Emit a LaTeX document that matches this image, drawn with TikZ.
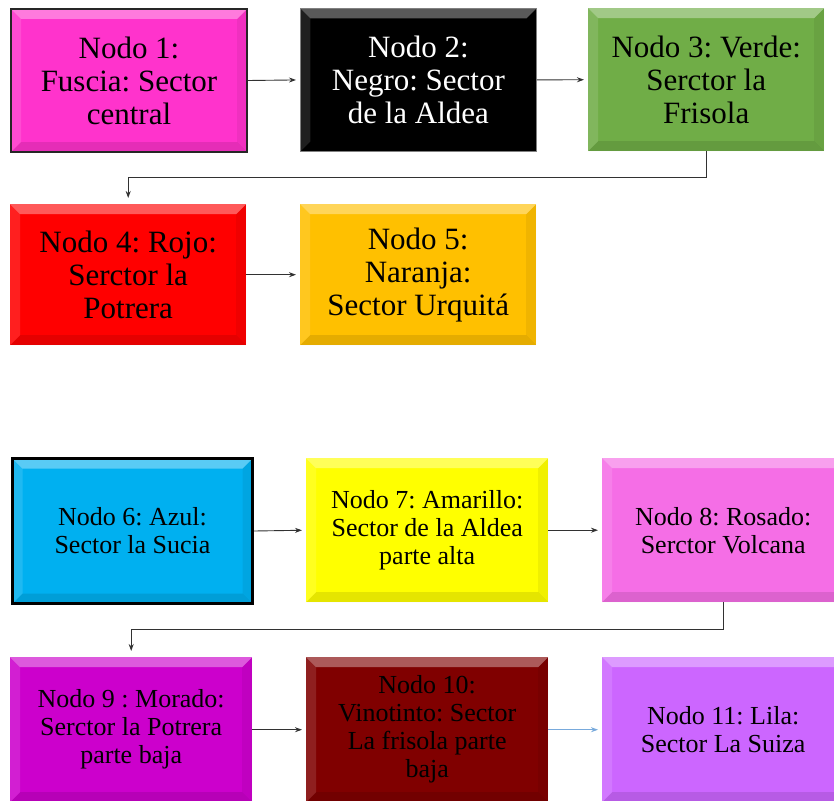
\documentclass[tikz,border=0pt]{standalone}
\usepackage{fontspec}
\setmainfont{Liberation Serif}
\usetikzlibrary{arrows.meta}
\definecolor{cfus}{RGB}{255,51,204}
\definecolor{cgreen}{RGB}{112,173,71}
\definecolor{cred}{RGB}{255,0,0}
\definecolor{corange}{RGB}{255,192,0}
\definecolor{ccyan}{RGB}{0,176,240}
\definecolor{cyellow}{RGB}{255,255,0}
\definecolor{cpink}{RGB}{245,110,230}
\definecolor{cpurple}{RGB}{204,0,204}
\definecolor{cwine}{RGB}{128,0,0}
\definecolor{clila}{RGB}{204,102,255}
\definecolor{cline}{RGB}{50,50,50}
\definecolor{cblue}{RGB}{120,170,220}
\tikzset{
  bevel/.style={path picture={
    \coordinate (NW) at (path picture bounding box.north west);
    \coordinate (NE) at (path picture bounding box.north east);
    \coordinate (SW) at (path picture bounding box.south west);
    \coordinate (SE) at (path picture bounding box.south east);
    \fill[white,opacity=0.35] (NW) -- (NE) -- ([shift={(-10pt,-10pt)}]NE) -- ([shift={(10pt,-10pt)}]NW) -- cycle;
    \fill[white,opacity=0.12] (NW) -- (SW) -- ([shift={(10pt,10pt)}]SW) -- ([shift={(10pt,-10pt)}]NW) -- cycle;
    \fill[black,opacity=0.06] (NE) -- (SE) -- ([shift={(-10pt,10pt)}]SE) -- ([shift={(-10pt,-10pt)}]NE) -- cycle;
    \fill[black,opacity=0.10] (SW) -- (SE) -- ([shift={(-10pt,10pt)}]SE) -- ([shift={(10pt,10pt)}]SW) -- cycle;
  }},
  box/.style={anchor=north west, inner sep=0pt, align=center, bevel},
  big/.style={box, font=\fontsize{31}{33}\selectfont, minimum width=236pt, minimum height=143pt},
  small/.style={box, font=\fontsize{26}{28}\selectfont, minimum width=242pt, minimum height=145pt},
  conn/.style={draw=cline, line width=0.9pt, -{Stealth[length=7pt,width=5pt]}},
}
\begin{document}
\frenchspacing
\begin{tikzpicture}[x=1pt,y=-1pt]
\clip (0,0) rectangle (834,800);
\fill[white] (0,0) rectangle (834,800);
% top group
\node[big, fill=cfus, draw=black!85, line width=2pt] (n1) at (10,8) {Nodo 1:\\Fuscia: Sector\\central};
\node[big, fill=black, text=white, draw=black!50, line width=0.8pt] (n2) at (300,8) {Nodo 2:\\Negro: Sector\\de la Aldea};
\node[big, fill=cgreen] (n3) at (588,8) {Nodo 3: Verde:\\Serctor la\\Frisola};
\node[big, fill=cred, minimum height=141pt] (n4) at (10,204) {Nodo 4: Rojo:\\Serctor la\\Potrera};
\node[big, fill=corange, minimum height=141pt] (n5) at (300,204) {Nodo 5:\\Naranja:\\Sector Urquitá};
% bottom group
\node[small, fill=ccyan, draw=black, line width=3pt, minimum width=240pt] (n6) at (11,457) {Nodo 6: Azul:\\Sector la Sucia};
\node[small, fill=cyellow, minimum height=144pt] (n7) at (306,458) {Nodo 7: Amarillo:\\Sector de la Aldea\\parte alta};
\node[small, fill=cpink, minimum height=144pt] (n8) at (602,458) {Nodo 8: Rosado:\\Serctor Volcana};
\node[small, fill=cpurple] (n9) at (10,657) {Nodo 9 : Morado:\\Serctor la Potrera\\parte baja};
\node[small, fill=cwine] (n10) at (306,657) {Nodo 10:\\Vinotinto: Sector\\La frisola parte\\baja};
\node[small, fill=clila] (n11) at (602,657) {Nodo 11: Lila:\\Sector La Suiza};
% connectors
\draw[conn, shorten >=4pt] (n1.east) -- (n2.west);
\draw[conn, shorten >=4pt] (n2.east) -- (n3.west);
\draw[conn, shorten >=6pt] (n3.south) -- ++(0,26) -| (n4.north);
\draw[conn, shorten >=4pt] (n4.east) -- (n5.west);
\draw[conn, shorten >=4pt] (n6.east) -- (n7.west);
\draw[conn, shorten >=4pt] (n7.east) -- (n8.west);
\draw[conn, shorten >=6pt] (n8.south) -- ++(0,27) -| (n9.north);
\draw[conn, shorten >=4pt] (n9.east) -- (n10.west);
\draw[conn, draw=cblue, shorten >=4pt] (n10.east) -- (n11.west);
\end{tikzpicture}
\end{document}
